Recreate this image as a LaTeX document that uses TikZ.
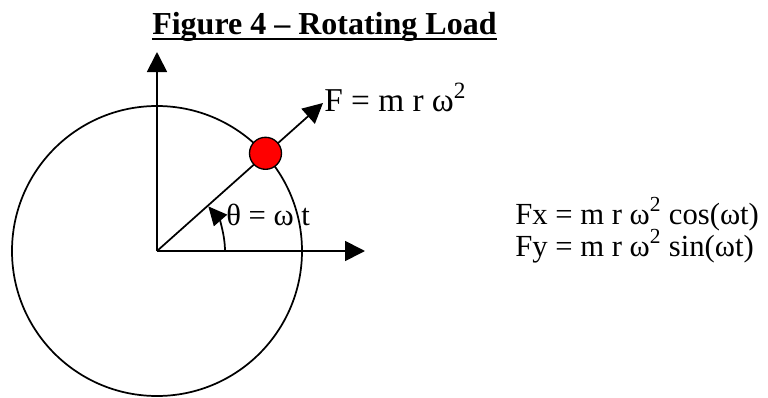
\documentclass[tikz,border=0pt]{standalone}
\usepackage{fontspec}
\setmainfont{Liberation Serif}
\usetikzlibrary{arrows.meta,positioning}

\tikzset{
  ball/.style={circle, fill=red, draw=black, line width=1pt, minimum size=24pt, inner sep=0pt},
  eqn/.style={anchor=base west, inner sep=0pt}
}

\begin{document}
\begin{tikzpicture}[x=0.75pt, y=0.75pt, >={Triangle[length=15pt,width=15pt]},
    every node/.style={font=\fontsize{23}{28}\selectfont}]
  \useasboundingbox (-157,-146) rectangle (611,251);

  % Title
  \node[font=\fontsize{24}{29}\selectfont\bfseries, eqn] (title) at (-5,217) {Figure 4 – Rotating Load};
  \draw[line width=1.8pt] ([yshift=-3.8pt]title.base west) -- ([yshift=-3.8pt]title.base east);

  % Circle of rotation
  \coordinate (O) at (0,0);
  \draw[line width=1.3pt] (O) circle (145);

  % Axes
  \coordinate (ytip) at (0,199);
  \coordinate (xtip) at (208,0);
  \draw[->, line width=1.3pt] (O) -- (xtip);
  \draw[->, line width=1.3pt] (O) -- (ytip);

  % Force vector through the mass
  \coordinate (ftip) at (166,148);
  \draw[->, line width=1.3pt] (O) -- (ftip);
  \node[ball] (mass) at (42:146) {};
  \node[eqn, font=\fontsize{25}{30}\selectfont] (force) at (167,140) {F = m r ω\textsuperscript{2}};

  % angle
  \draw[->, line width=1.3pt, >={Triangle[length=14pt,width=13pt]}] (68,0) arc[start angle=0, end angle=41, radius=68];
  \node[eqn] (angle) at (69,26) {θ = ω t};

  % components
  \node[eqn] (fx) at (358,27) {Fx = m r ω\textsuperscript{2} cos(ωt)};
  \node[eqn] (fy) at (358,-5) {Fy = m r ω\textsuperscript{2} sin(ωt)};

\end{tikzpicture}
\end{document}
